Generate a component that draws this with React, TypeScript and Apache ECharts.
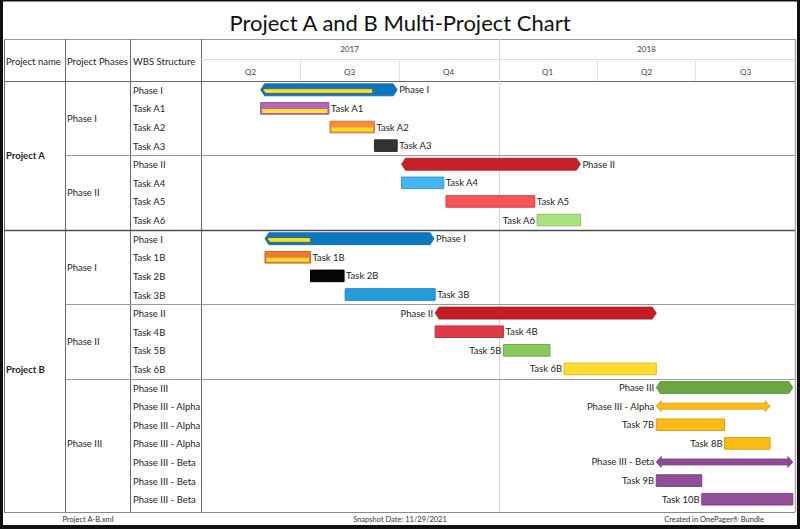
import React, { useEffect, useRef } from 'react';
import * as echarts from 'echarts';

const chartTitle = 'Project A and B Multi-Project Chart';
const years = ['2017', '2018'];
const quarters = ['Q2', 'Q3', 'Q4', 'Q1', 'Q2', 'Q3'];
const quarterStarts = ['2017-07-01', '2017-10-01', '2018-04-01', '2018-07-01'];
const yearBoundary = '2018-01-01';
const axisStart = '2017-04-01';
const axisEnd = '2018-10-01';

const headerCols = ['Project name', 'Project Phases', 'WBS Structure'];
const footerTexts = ['Project A-B.xml', 'Snapshot Date: 11/29/2021', 'Created in OnePager® Bundle'];

const wbsRows = [
  'Phase I', 'Task A1', 'Task A2', 'Task A3', 'Phase II', 'Task A4', 'Task A5', 'Task A6',
  'Phase I', 'Task 1B', 'Task 2B', 'Task 3B', 'Phase II', 'Task 4B', 'Task 5B', 'Task 6B',
  'Phase III', 'Phase III - Alpha', 'Phase III - Alpha', 'Phase III - Alpha',
  'Phase III - Beta', 'Phase III - Beta', 'Phase III - Beta',
];
const projectNames = ['Project A', 'Project B'];
const projectRowSpans = [8, 15];
const phaseNames = ['Phase I', 'Phase II', 'Phase I', 'Phase II', 'Phase III'];
const phaseRowSpans = [4, 4, 4, 4, 7];

const barNames = [
  'Phase I', 'Task A1', 'Task A2', 'Task A3', 'Phase II', 'Task A4', 'Task A5', 'Task A6',
  'Phase I', 'Task 1B', 'Task 2B', 'Task 3B', 'Phase II', 'Task 4B', 'Task 5B', 'Task 6B',
  'Phase III', 'Phase III - Alpha', 'Task 7B', 'Task 8B', 'Phase III - Beta', 'Task 9B', 'Task 10B',
];
const barRows = [0, 1, 2, 3, 4, 5, 6, 7, 8, 9, 10, 11, 12, 13, 14, 15, 16, 17, 18, 19, 20, 21, 22];
const barStarts = [
  '2017-05-26', '2017-05-26', '2017-07-29', '2017-09-08', '2017-10-03', '2017-10-03', '2017-11-13', '2018-02-05',
  '2017-05-30', '2017-05-30', '2017-07-11', '2017-08-12', '2017-11-03', '2017-11-03', '2018-01-05', '2018-03-02',
  '2018-05-26', '2018-05-26', '2018-05-26', '2018-07-28', '2018-05-26', '2018-05-26', '2018-07-07',
];
const barEnds = [
  '2017-09-29', '2017-07-28', '2017-09-08', '2017-09-29', '2018-03-17', '2017-11-11', '2018-02-03', '2018-03-17',
  '2017-11-02', '2017-07-11', '2017-08-11', '2017-11-03', '2018-05-26', '2018-01-05', '2018-02-17', '2018-05-26',
  '2018-09-29', '2018-09-08', '2018-07-28', '2018-09-08', '2018-09-29', '2018-07-07', '2018-09-29',
];
const barKinds = [
  'summary', 'task', 'task', 'task', 'summary', 'task', 'task', 'task',
  'summary', 'task', 'task', 'task', 'summary', 'task', 'task', 'task',
  'summary', 'arrow', 'task', 'task', 'arrow', 'task', 'task',
];
const barProgress = [
  0.82, 1, 1, 0, 0, 0, 0, 0,
  0.27, 1, 0, 0, 0, 0, 0, 0,
  0, 0, 0, 0, 0, 0, 0,
];
const labelSides = [
  'right', 'right', 'right', 'right', 'right', 'right', 'right', 'left',
  'right', 'right', 'right', 'right', 'left', 'right', 'left', 'left',
  'left', 'left', 'left', 'left', 'left', 'left', 'left',
];
const barColors = [
  '#0b77c2', '#b866b8', '#f58d3d', '#333333', '#c61f26', '#45b6f2', '#f6545c', '#a9e27e',
  '#0b79c0', '#ee7b2e', '#050505', '#239cdc', '#c41e24', '#e13a46', '#89c85c', '#fddc2d',
  '#6aa642', '#fbbc15', '#fcbc15', '#fcbc15', '#8f4b95', '#924f97', '#924f97',
];

const FONT = 'Lato, "Noto Sans", sans-serif';
const PROGRESS = '#fde02e';

// layout
const L = 4, R = 795, T = 39, HMID = 59, GTOP = 81, GH = 428, BOTTOM = 512;
const C1 = 65, C2 = 130, C3 = 201;

function darken(hex: string, f: number) {
  const n = parseInt(hex.slice(1), 16);
  const r = Math.round(((n >> 16) & 255) * (1 - f));
  const g = Math.round(((n >> 8) & 255) * (1 - f));
  const b = Math.round((n & 255) * (1 - f));
  return `rgb(${r},${g},${b})`;
}

function ln(x1: number, y1: number, x2: number, y2: number, stroke: string, w = 1) {
  return { type: 'line', silent: true, z: 0, shape: { x1, y1, x2, y2 }, style: { stroke, lineWidth: w } };
}

function txt(text: string, x: number, y: number, size: number, extra: any = {}) {
  return {
    type: 'text', silent: true, z: 5, x, y,
    style: { text, fontSize: size, fontFamily: FONT, fill: '#1e1e1e', verticalAlign: 'middle', align: 'left', ...extra },
  };
}

export default function App() {
  const ref = useRef<HTMLDivElement>(null);
  useEffect(() => {
    if (!ref.current) return;
    const chart = echarts.init(ref.current, null, { renderer: 'svg' });
    const t0 = +echarts.time.parse(axisStart);
    const t1 = +echarts.time.parse(axisEnd);
    const xOf = (d: string) => C3 + ((+echarts.time.parse(d) - t0) / (t1 - t0)) * (R - C3);
    const rowH = GH / wbsRows.length;

    const g: any[] = [];
    // black outer frame
    g.push({ type: 'rect', silent: true, z: 10, shape: { x: 0, y: 0, width: 3, height: 529 }, style: { fill: '#111' } });
    g.push({ type: 'rect', silent: true, z: 10, shape: { x: 797, y: 0, width: 3, height: 529 }, style: { fill: '#111' } });
    g.push({ type: 'rect', silent: true, z: 10, shape: { x: 0, y: 0, width: 800, height: 1.5 }, style: { fill: '#111' } });
    g.push({ type: 'rect', silent: true, z: 10, shape: { x: 0, y: 525, width: 800, height: 4 }, style: { fill: '#111' } });

    // table lines
    g.push(ln(L + 0.5, T, L + 0.5, BOTTOM, '#6a6a6a'));
    g.push(ln(L, T + 0.5, R, T + 0.5, '#9a9a9a'));
    g.push(ln(R + 0.5, T, R + 0.5, BOTTOM, '#a8a8a8', 1.5));
    g.push(ln(L, BOTTOM + 0.5, R, BOTTOM + 0.5, '#8a8a8a'));
    [C1, C2, C3].forEach((x) => g.push(ln(x + 0.5, T, x + 0.5, BOTTOM, '#6a6a6a')));
    g.push(ln(L, GTOP + 0.5, R, GTOP + 0.5, '#6a6a6a'));
    g.push(ln(C3, HMID + 0.5, R, HMID + 0.5, '#dcdcdc'));
    quarterStarts.forEach((d) => {
      const x = Math.round(xOf(d)) + 0.5;
      g.push(ln(x, HMID, x, GTOP, '#e2e2e2'));
    });
    const yb = Math.round(xOf(yearBoundary)) + 0.5;
    g.push(ln(yb, T, yb, BOTTOM, '#d8d8d8'));

    // phase separators
    let acc = 0;
    phaseRowSpans.forEach((span, i) => {
      const top = GTOP + acc * rowH;
      const mid = top + (span * rowH) / 2;
      g.push(txt(phaseNames[i], C1 + 2, mid, 9.5));
      acc += span;
      if (i < phaseRowSpans.length - 1) {
        const y = Math.round(GTOP + acc * rowH) + 0.5;
        g.push(ln(C1, y, R, y, '#9a9a9a'));
      }
    });
    // project separators
    acc = 0;
    projectRowSpans.forEach((span, i) => {
      const top = GTOP + acc * rowH;
      const mid = top + (span * rowH) / 2;
      g.push(txt(projectNames[i], L + 2, mid, 9.5, { fontWeight: 'bold' }));
      acc += span;
      if (i < projectRowSpans.length - 1) {
        const y = Math.round(GTOP + acc * rowH) + 0.5;
        g.push(ln(L, y, R, y, '#505050', 1.6));
      }
    });

    // header texts
    const headerY = (T + GTOP) / 2 + 1;
    g.push(txt(headerCols[0], L + 2, headerY, 9.5));
    g.push(txt(headerCols[1], C1 + 2, headerY, 9.5));
    g.push(txt(headerCols[2], C2 + 3, headerY, 9.5));

    // footer
    const fx = [88, 400, 714];
    footerTexts.forEach((t, i) => g.push(txt(t, fx[i], 519, 7.5, { align: 'center', fill: '#333' })));

    const data = barNames.map((_, i) => [
      barRows[i], +echarts.time.parse(barStarts[i]), +echarts.time.parse(barEnds[i]), i,
    ]);

    const renderItem = (params: any, api: any) => {
      const i = api.value(3);
      const row = api.value(0);
      const p0 = api.coord([api.value(1), row]);
      const p1 = api.coord([api.value(2), row]);
      const x0 = p0[0], x1 = p1[0], yc = p0[1] - 0.5;
      const color = barColors[i];
      const kind = barKinds[i];
      const prog = barProgress[i];
      const children: any[] = [];
      if (kind === 'summary') {
        const h = 6, tip = 4;
        children.push({
          type: 'polygon',
          shape: { points: [[x0, yc], [x0 + tip, yc - h], [x1 - tip, yc - h], [x1, yc], [x1 - tip, yc + h], [x0 + tip, yc + h]] },
          style: { fill: color, stroke: darken(color, 0.15), lineWidth: 0.8 },
        });
        if (prog > 0) {
          const xe = x0 + (x1 - x0) * prog;
          children.push({
            type: 'polygon',
            shape: { points: [[x0 + 2, yc], [x0 + 4, yc - 1], [xe, yc - 1], [xe, yc + 3.5], [x0 + 5, yc + 3.5]] },
            style: { fill: PROGRESS, stroke: '#4a4a2a', lineWidth: 0.6 },
          });
        }
      } else if (kind === 'arrow') {
        const hh = 5.5, bh = 3, tip = 5;
        children.push({
          type: 'polygon',
          shape: {
            points: [
              [x0, yc], [x0 + tip, yc - hh], [x0 + tip, yc - bh], [x1 - tip, yc - bh], [x1 - tip, yc - hh],
              [x1, yc], [x1 - tip, yc + hh], [x1 - tip, yc + bh], [x0 + tip, yc + bh], [x0 + tip, yc + hh],
            ],
          },
          style: { fill: color, stroke: darken(color, 0.15), lineWidth: 0.8 },
        });
      } else {
        const h = 5.8;
        children.push({
          type: 'rect',
          shape: { x: x0, y: yc - h, width: x1 - x0, height: 2 * h },
          style: { fill: color, stroke: darken(color, 0.15), lineWidth: 1 },
        });
        if (prog > 0) {
          children.push({
            type: 'rect',
            shape: { x: x0 + 1.5, y: yc + 0.5, width: (x1 - x0 - 3) * prog, height: 4 },
            style: { fill: PROGRESS },
          });
        }
      }
      const right = labelSides[i] === 'right';
      children.push({
        type: 'text',
        x: right ? x1 + 2 : x0 - 2,
        y: yc,
        style: {
          text: barNames[i], fontSize: 9.5, fontFamily: FONT, fill: '#1e1e1e',
          align: right ? 'left' : 'right', verticalAlign: 'middle',
        },
      });
      return { type: 'group', children };
    };

    chart.setOption({
      animation: false,
      backgroundColor: '#ffffff',
      title: {
        text: chartTitle, left: 'center', top: 6,
        textStyle: { fontSize: 22, fontWeight: 'normal', fontFamily: FONT, color: '#111' },
      },
      grid: { left: C3, top: GTOP, width: R - C3, height: GH, containLabel: false },
      xAxis: [
        { type: 'time', min: t0, max: t1, show: false },
        {
          type: 'category', data: quarters, position: 'top', offset: 0,
          axisLine: { show: false }, axisTick: { show: false }, splitLine: { show: false },
          axisLabel: { fontSize: 8, color: '#444', margin: 5, fontFamily: FONT, interval: 0 },
        },
        {
          type: 'category', data: years, position: 'top', offset: GTOP - HMID,
          axisLine: { show: false }, axisTick: { show: false }, splitLine: { show: false },
          axisLabel: { fontSize: 8, color: '#444', margin: 6, fontFamily: FONT, interval: 0 },
        },
      ],
      yAxis: {
        type: 'category', data: wbsRows, inverse: true,
        axisLine: { show: false }, axisTick: { show: false }, splitLine: { show: false },
        axisLabel: { interval: 0, align: 'left', margin: C3 - C2 - 3, fontSize: 9.5, color: '#1e1e1e', fontFamily: FONT },
      },
      graphic: g,
      series: [
        {
          type: 'custom', xAxisIndex: 0, yAxisIndex: 0, renderItem,
          encode: { x: [1, 2], y: 0 }, data, clip: false, z: 3,
        },
      ],
    });
    return () => chart.dispose();
  }, []);
  return <div ref={ref} style={{ position: 'absolute', left: 0, top: 0, width: 800, height: 529, background: '#fff' }} />;
}
